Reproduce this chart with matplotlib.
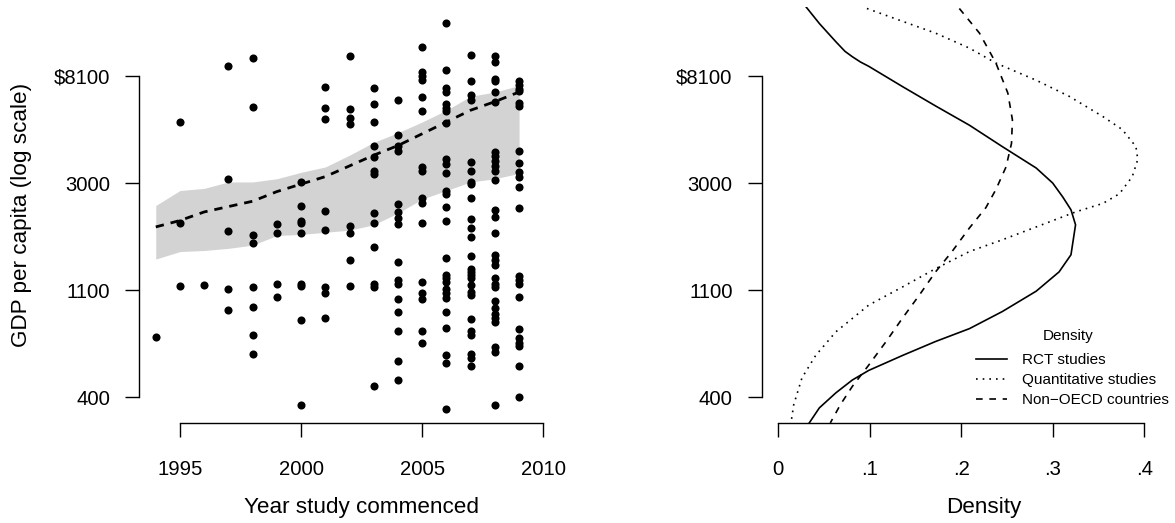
import matplotlib
matplotlib.use("Agg")
import matplotlib.pyplot as plt
from matplotlib.lines import Line2D

plt.rcParams["font.family"] = ["Liberation Sans", "DejaVu Sans"]

# log GDP per capita of each study, grouped by the year it commenced
years = [1994, 1995, 1996, 1997, 1998, 1999, 2000, 2001,
         2002, 2003, 2004, 2005, 2006, 2007, 2008, 2009]
log_gdp = [
    [6.56],
    [8.57, 7.63, 7.04],
    [7.05],
    [9.09, 8.04, 7.55, 7.01, 6.81],
    [9.17, 8.71, 7.51, 7.44, 7.03, 6.84, 6.58, 6.40],
    [7.62, 7.53, 7.06, 6.94],
    [8.01, 7.79, 7.65, 7.63, 7.53, 7.06, 7.04, 6.72, 5.93],
    [8.90, 8.70, 8.60, 7.74, 7.56, 7.03, 6.97, 6.74],
    [9.19, 8.69, 8.61, 8.55, 7.60, 7.53, 7.28, 7.04],
    [8.89, 8.74, 8.57, 8.35, 8.24, 8.11, 8.08, 7.72, 7.63, 7.40, 7.06, 7.03, 6.10],
    [8.78, 8.45, 8.35, 8.30, 7.80, 7.73, 7.67, 7.62, 7.26, 7.09, 7.06, 6.92,
     6.80, 6.62, 6.34, 6.16],
    [9.27, 9.04, 9.00, 8.96, 8.80, 8.67, 8.15, 8.11, 7.86, 7.81, 7.63, 7.08,
     6.97, 6.92, 6.62, 6.51],
    [9.49, 9.06, 8.89, 8.85, 8.74, 8.70, 8.67, 8.56, 8.22, 8.18, 8.09, 7.93,
     7.90, 7.78, 7.65, 7.30, 7.14, 7.11, 7.08, 7.01, 6.97, 6.93, 6.80, 6.65,
     6.39, 6.32, 5.89],
    [9.20, 8.95, 8.82, 8.78, 8.20, 8.11, 8.01, 7.99, 7.86, 7.66, 7.58, 7.50,
     7.32, 7.20, 7.17, 7.14, 7.11, 7.05, 6.98, 6.95, 6.73, 6.62, 6.58, 6.40,
     6.37, 6.29],
    [9.19, 9.13, 8.97, 8.95, 8.85, 8.76, 8.29, 8.25, 8.21, 8.16, 8.11, 8.03,
     7.75, 7.68, 7.53, 7.33, 7.28, 7.23, 7.11, 7.06, 7.03, 6.90, 6.83, 6.78,
     6.74, 6.70, 6.47, 6.42, 5.93],
    [8.95, 8.92, 8.88, 8.86, 8.75, 8.72, 8.30, 8.19, 8.10, 8.06, 7.96, 7.77,
     7.13, 7.09, 7.06, 6.94, 6.64, 6.55, 6.51, 6.48, 6.29, 6.00],
]

# non-OECD countries: mean log GDP per year and its band
trend_mid = [7.59, 7.65, 7.73, 7.78, 7.83, 7.92, 7.99, 8.06,
             8.16, 8.26, 8.35, 8.46, 8.57, 8.68, 8.76, 8.85]
band_hi = [7.79, 7.93, 7.95, 8.01, 8.01, 8.04, 8.10, 8.15,
           8.26, 8.38, 8.47, 8.57, 8.68, 8.81, 8.85, 8.91]
band_lo = [7.29, 7.36, 7.37, 7.39, 7.42, 7.51, 7.52, 7.54,
           7.56, 7.61, 7.72, 7.85, 7.93, 8.01, 8.04, 8.09]

# densities of log GDP
rct_y = [9.65, 9.49, 9.32, 9.23, 9.18, 9.13, 9.09, 8.90, 8.72, 8.54, 8.34, 8.14,
         8.00, 7.87, 7.75, 7.61, 7.33, 7.17, 6.99, 6.80, 6.64, 6.52, 6.39, 6.25,
         6.16, 6.04, 5.90, 5.76]
rct_d = [0.030, 0.045, 0.063, 0.073, 0.081, 0.090, 0.099, 0.136, 0.172, 0.209,
         0.245, 0.282, 0.300, 0.311, 0.320, 0.325, 0.320, 0.307, 0.282, 0.245,
         0.209, 0.172, 0.136, 0.099, 0.081, 0.063, 0.045, 0.034]
quant_y = [9.63, 9.51, 9.40, 9.26, 9.12, 8.96, 8.81, 8.62, 8.50, 8.34, 8.22,
           8.06, 7.90, 7.81, 7.73, 7.59, 7.47, 7.36, 7.20, 7.03, 6.86, 6.61,
           6.39, 6.18, 5.93, 5.76]
quant_d = [0.097, 0.136, 0.172, 0.209, 0.238, 0.282, 0.318, 0.355, 0.376, 0.391,
           0.393, 0.387, 0.373, 0.355, 0.325, 0.282, 0.245, 0.209, 0.172, 0.136,
           0.099, 0.063, 0.041, 0.026, 0.017, 0.014]
oecd_y = [9.63, 9.40, 9.12, 8.84, 8.59, 8.37, 8.15, 7.94, 7.77, 7.58, 7.36,
          7.17, 6.95, 6.74, 6.52, 6.30, 6.10, 5.93, 5.76]
oecd_d = [0.198, 0.220, 0.238, 0.251, 0.256, 0.255, 0.249, 0.238, 0.227, 0.209,
          0.190, 0.172, 0.154, 0.136, 0.118, 0.099, 0.081, 0.068, 0.057]

y_ticks = [6, 7, 8, 9]
y_labels = ["400", "1100", "3000", "\\$8100"]
x_ticks = [1995, 2000, 2005, 2010]
d_ticks = [0, 0.1, 0.2, 0.3, 0.4]
d_labels = ["0", ".1", ".2", ".3", ".4"]
legend_labels = ["RCT studies", "Quantitative studies", "Non\u2212OECD countries"]

W, H = 1175, 523
fig = plt.figure(figsize=(W / 100, H / 100), dpi=100)
fig.patch.set_facecolor("white")

bottom = 1 - 423.3 / H
height = 416.3 / H
ax1 = fig.add_axes([139.3 / W, bottom, 444.7 / W, height])
ax2 = fig.add_axes([761.7 / W, bottom, 444.7 / W, height])

for ax in (ax1, ax2):
    ax.set_ylim(5.756, 9.644)
    ax.spines["top"].set_visible(False)
    ax.spines["right"].set_visible(False)
    ax.spines["left"].set_bounds(6, 9)
    for s in ("left", "bottom"):
        ax.spines[s].set_linewidth(1.0)
    ax.set_yticks(y_ticks)
    ax.set_yticklabels(y_labels)
    ax.tick_params(length=10, width=1.0, labelsize=14.6, direction="out")
    ax.tick_params(axis="x", pad=16.5)
    ax.tick_params(axis="y", pad=11)
    ax.patch.set_alpha(0)

# left panel
ax1.set_xlim(1993.32, 2011.68)
ax1.spines["bottom"].set_bounds(1995, 2010)
ax1.set_xticks(x_ticks)
ax1.fill_between(years, band_lo, band_hi, color="#D3D3D3", linewidth=0, zorder=1)
ax1.plot(years, trend_mid, color="black", lw=2.0, linestyle=(0, (3, 2.5)), zorder=2)
for yr, vals in zip(years, log_gdp):
    ax1.scatter([yr] * len(vals), vals, s=34, color="black", linewidths=0, zorder=3)
ax1.set_xlabel("Year study commenced", fontsize=16.2)
ax1.set_ylabel("GDP per capita (log scale)", fontsize=16.2)
ax1.xaxis.set_label_coords(0.5, -(508 - 423.3) / 416.3)
ax1.xaxis.label.set_va("center")
ax1.yaxis.set_label_coords(-(139.3 - 22) / 444.7, 0.5)
ax1.yaxis.label.set_va("center")

# right panel
ax2.set_xlim(-0.018, 0.468)
ax2.spines["bottom"].set_bounds(0, 0.4)
ax2.set_xticks(d_ticks)
ax2.set_xticklabels(d_labels)
lw = 1.2
styles = ["-", (0, (1, 3)), (0, (4, 4))]
ax2.plot(rct_d, rct_y, color="black", lw=lw, linestyle=styles[0])
ax2.plot(quant_d, quant_y, color="black", lw=lw, linestyle=styles[1])
ax2.plot(oecd_d, oecd_y, color="black", lw=lw, linestyle=styles[2])
ax2.set_xlabel("Density", fontsize=16.2)
ax2.xaxis.set_label_coords(0.5, -(508 - 423.3) / 416.3)
ax2.xaxis.label.set_va("center")

# legend: title on its own, entries below
fig.text(1068.5 / W, 1 - 336 / H, "Density", fontsize=11, ha="center", va="center")
handles = [Line2D([], [], color="black", lw=lw, linestyle=st) for st in styles]
fig.legend(handles, legend_labels, loc="upper left",
           bbox_to_anchor=(976 / W, 1 - 353.5 / H), bbox_transform=fig.transFigure,
           frameon=False, fontsize=11,
           handlelength=2.0, handletextpad=1.0, labelspacing=0.38,
           borderpad=0, borderaxespad=0)

fig.savefig("out.png", dpi=100, facecolor="white")
